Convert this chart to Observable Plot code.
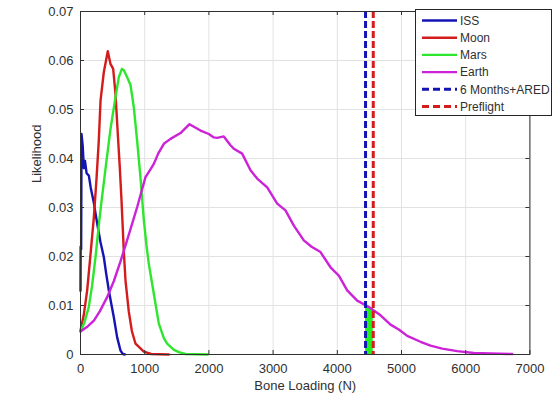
<!DOCTYPE html>
<html>
<head>
<meta charset="utf-8">
<script src="https://cdn.jsdelivr.net/npm/d3@7"></script>
<script src="https://cdn.jsdelivr.net/npm/@observablehq/plot@0.6"></script>
<style>
  body { margin: 0; background: white; }
  #wrap { position: relative; width: 552px; height: 399px; }
  #legend { position: absolute; left: 415px; top: 9px; width: 135px; height: 105px; background: white; border: 1px solid #262626; }
</style>
</head>
<body>
<div id="wrap"></div>
<script>
// ---- data ----
const xTicks = [0, 1000, 2000, 3000, 4000, 5000, 6000, 7000];
const yTicks = [0, 0.01, 0.02, 0.03, 0.04, 0.05, 0.06, 0.07];
const xLabel = "Bone Loading (N)";
const yLabel = "Likelihood";

const seriesNames = ["ISS", "Moon", "Mars", "Earth", "6 Months+ARED", "Preflight"];
const seriesColors = ["#1414b4", "#d41c1c", "#2ee62e", "#cc22d8", "#1414b4", "#d41c1c"];

const iss = [[0,0.013],[2,0.022],[10,0.0215],[16,0.045],[35,0.0425],[52,0.038],[70,0.0395],[95,0.037],[130,0.0365],[160,0.034],[207,0.031],[260,0.0267],[310,0.023],[363,0.0199],[400,0.0165],[441,0.0131],[480,0.0103],[519,0.0076],[571,0.0035],[623,0.0008],[660,0.0001],[690,0]];
const moon = [[0,0.0049],[50,0.008],[104,0.0131],[160,0.021],[208,0.028],[250,0.036],[285,0.0437],[312,0.0518],[363,0.0576],[425,0.0619],[467,0.0593],[509,0.0583],[545,0.0532],[581,0.045],[612,0.0382],[639,0.0314],[675,0.021],[701,0.0151],[752,0.0088],[800,0.0048],[857,0.0022],[986,0.0006],[1100,0.0001],[1375,0]];
const mars = [[0,0.0047],[60,0.0065],[129,0.0097],[180,0.014],[234,0.0199],[290,0.027],[325,0.031],[400,0.039],[467,0.046],[545,0.0525],[597,0.0566],[645,0.0583],[675,0.058],[727,0.0566],[779,0.055],[830,0.0505],[883,0.0435],[935,0.036],[986,0.0275],[1030,0.022],[1064,0.0185],[1142,0.0124],[1220,0.0063],[1300,0.0033],[1350,0.0022],[1450,0.001],[1531,0.0005],[1636,0.0001],[1983,0]];
const earth = [[0,0.0047],[100,0.0056],[208,0.0069],[300,0.0088],[415,0.0117],[520,0.015],[623,0.019],[700,0.0222],[779,0.0256],[883,0.0301],[1012,0.0362],[1090,0.0378],[1142,0.0389],[1210,0.041],[1298,0.043],[1402,0.044],[1558,0.0452],[1698,0.047],[1869,0.0457],[1999,0.045],[2076,0.0443],[2129,0.0442],[2232,0.0445],[2336,0.0427],[2388,0.042],[2518,0.041],[2648,0.0376],[2752,0.0359],[2908,0.0341],[3064,0.0308],[3193,0.0294],[3323,0.0263],[3478,0.0233],[3600,0.022],[3738,0.0209],[3894,0.0178],[4024,0.0161],[4154,0.0131],[4310,0.011],[4491,0.0097],[4673,0.008],[4829,0.0061],[4958,0.0051],[5089,0.0038],[5296,0.0026],[5452,0.0018],[5634,0.0012],[5867,0.0007],[6127,0.0003],[6386,0.0002],[6724,0.0001]];

const aredLoad = 4440;      // 6 Months+ARED
const preflightLoad = 4560; // Preflight
const shadeX = [4440, 4560];
const shadeY = [0.0099, 0.0095];
const shadeColor = "#22ee22";

// ---- chart ----
const mL = 80, mR = 22.6, mT = 11, mB = 45, W = 552, H = 399;
const plotH = H - mT - mB, plotW = W - mL - mR;
const tickLen = 4;
const ink = "#303030";
const grid = "#e2e2e2";
const curves = [iss, moon, mars, earth];

const chart = Plot.plot({
  width: W, height: H,
  marginLeft: mL, marginRight: mR, marginTop: mT, marginBottom: mB,
  x: {domain: [0, 7000]},
  y: {domain: [0, 0.07]},
  style: {fontFamily: "'Liberation Sans', Arial, sans-serif", fontSize: "13px", color: ink, background: "white", overflow: "visible"},
  marks: [
    Plot.ruleX(xTicks, {stroke: grid}),
    Plot.ruleY(yTicks, {stroke: grid}),
    Plot.areaY(shadeX.map((x, i) => ({x, y: shadeY[i]})), {x: "x", y: "y", fill: shadeColor}),
    ...curves.map((c, i) => Plot.line(c, {x: d => d[0], y: d => d[1], stroke: seriesColors[i], strokeWidth: 2.4})),
    Plot.ruleX([aredLoad], {stroke: seriesColors[4], strokeWidth: 3, strokeDasharray: "7,3"}),
    Plot.ruleX([preflightLoad], {stroke: seriesColors[5], strokeWidth: 3, strokeDasharray: "7,3"}),
    Plot.frame({stroke: ink}),
    Plot.ruleX(xTicks, {stroke: ink, insetTop: plotH - tickLen}),
    Plot.ruleX(xTicks, {stroke: ink, insetBottom: plotH - tickLen}),
    Plot.ruleY(yTicks, {stroke: ink, insetRight: plotW - tickLen}),
    Plot.ruleY(yTicks, {stroke: ink, insetLeft: plotW - tickLen}),
    Plot.axisX({ticks: xTicks, tickSize: 0, tickPadding: 9, label: null, tickFormat: d => String(d)}),
    Plot.axisY({ticks: yTicks, tickSize: 0, tickPadding: 7, label: null, tickFormat: d => d === 0 ? "0" : d.toFixed(2)}),
    Plot.text([xLabel], {frameAnchor: "bottom", dy: 35, text: d => d, fill: ink, fontSize: 13}),
    Plot.text([yLabel], {frameAnchor: "left", dx: -44, rotate: -90, text: d => d, fill: ink, fontSize: 13})
  ]
});

const wrap = document.getElementById("wrap");
wrap.appendChild(chart);

// legend (inside the axes, top-right)
const legend = document.createElement("div");
legend.id = "legend";
const ns = "http://www.w3.org/2000/svg";
const lsvg = document.createElementNS(ns, "svg");
lsvg.setAttribute("width", 135);
lsvg.setAttribute("height", 105);
lsvg.style.fontFamily = "'Liberation Sans', Arial, sans-serif";
lsvg.style.fontSize = "12px";
seriesNames.forEach((name, i) => {
  const y = 10.5 + i * 17.2;
  const line = document.createElementNS(ns, "line");
  line.setAttribute("x1", 6); line.setAttribute("x2", 41);
  line.setAttribute("y1", y); line.setAttribute("y2", y);
  line.setAttribute("stroke", seriesColors[i]);
  line.setAttribute("stroke-width", i < 4 ? 2.4 : 3);
  if (i >= 4) line.setAttribute("stroke-dasharray", "7,4");
  lsvg.appendChild(line);
  const t = document.createElementNS(ns, "text");
  t.setAttribute("x", 44); t.setAttribute("y", y);
  t.setAttribute("dy", "0.35em");
  t.setAttribute("fill", ink);
  t.textContent = name;
  lsvg.appendChild(t);
});
legend.appendChild(lsvg);
wrap.appendChild(legend);
</script>
</body>
</html>
